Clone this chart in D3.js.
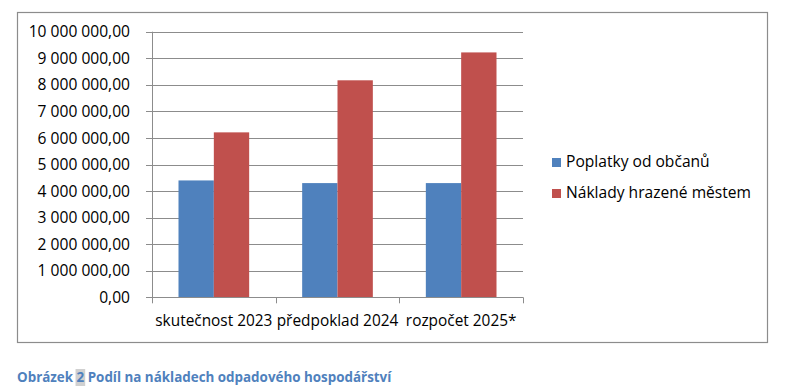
<!DOCTYPE html>
<html>
<head>
<meta charset="utf-8">
<script src="https://cdn.jsdelivr.net/npm/d3@7"></script>
<style>
  body { margin: 0; background: #fff; }
  svg { display: block; font-family: "Open Sans", sans-serif; }
</style>
</head>
<body>
<svg id="chart" width="800" height="391"></svg>
<script>
// kategorie a hodnoty
var categories = ["skutečnost 2023", "předpoklad 2024", "rozpočet 2025*"];
var seriesNames = ["Poplatky od občanů", "Náklady hrazené městem"];
var poplatky = [4400000, 4300000, 4300000];
var naklady = [6210000, 8170000, 9220000];
var yTicks = [0, 1000000, 2000000, 3000000, 4000000, 5000000, 6000000, 7000000, 8000000, 9000000, 10000000];
var colors = ["#4f81bd", "#c0504d"];

var svg = d3.select("#chart");

// rámeček grafu
svg.append("rect")
    .attr("x", 17.5).attr("y", 12.5)
    .attr("width", 750).attr("height", 330)
    .attr("fill", "#fff")
    .attr("stroke", "#8c8c8c")
    .attr("stroke-width", 1.2);

var plot = { left: 152, right: 523, top: 31.7, bottom: 297.3 };

var xScale = d3.scaleBand()
    .domain(categories)
    .range([plot.left, plot.right]);

var yScale = d3.scaleLinear()
    .domain([0, 10000000])
    .range([plot.bottom, plot.top]);

// formát čísel: "1 000 000,00"
function fmt(v) {
    var s = d3.format(",.2f")(v);
    return s.replace(/,/g, " ").replace(".", ",");
}

// mřížka
svg.append("g")
    .selectAll("line")
    .data(yTicks)
    .enter()
    .append("line")
    .attr("x1", plot.left - 6)
    .attr("x2", plot.right)
    .attr("y1", d => Math.round(yScale(d)) + 0.5)
    .attr("y2", d => Math.round(yScale(d)) + 0.5)
    .attr("stroke", "#8c8c8c")
    .attr("stroke-width", 1);

// popisky osy y
svg.append("g")
    .selectAll("text")
    .data(yTicks)
    .enter()
    .append("text")
    .attr("x", 130)
    .attr("y", d => yScale(d))
    .attr("dy", "0.36em")
    .attr("text-anchor", "end")
    .attr("font-size", 15.6)
    .attr("fill", "#000")
    .text(d => fmt(d));

// osa y
svg.append("line")
    .attr("x1", plot.left + 0.5).attr("x2", plot.left + 0.5)
    .attr("y1", plot.top).attr("y2", plot.bottom)
    .attr("stroke", "#8c8c8c");

// skupiny sloupců
var inner = d3.scaleBand()
    .domain(d3.range(2))
    .range([0, xScale.bandwidth()])
    .paddingOuter(0.75)
    .paddingInner(0);

var groups = svg.selectAll("g.cat")
    .data(categories)
    .enter()
    .append("g")
    .attr("class", "cat")
    .attr("transform", d => `translate(${xScale(d)},0)`);

groups.each(function(c, i) {
    var vals = [poplatky[i], naklady[i]];
    d3.select(this).selectAll("rect")
        .data(vals)
        .enter()
        .append("rect")
        .attr("x", (d, j) => inner(j))
        .attr("width", inner.bandwidth())
        .attr("y", d => yScale(d))
        .attr("height", d => yScale(0) - yScale(d))
        .attr("fill", (d, j) => colors[j]);
});

// osa x
svg.append("line")
    .attr("x1", plot.left).attr("x2", plot.right)
    .attr("y1", Math.round(plot.bottom) + 0.5).attr("y2", Math.round(plot.bottom) + 0.5)
    .attr("stroke", "#8c8c8c");

var xTicks = categories.map(c => xScale(c)).concat([plot.right]);
svg.append("g")
    .selectAll("line")
    .data(xTicks)
    .enter()
    .append("line")
    .attr("x1", d => Math.round(d) + 0.5)
    .attr("x2", d => Math.round(d) + 0.5)
    .attr("y1", plot.bottom)
    .attr("y2", plot.bottom + 6)
    .attr("stroke", "#8c8c8c");

svg.append("g")
    .selectAll("text")
    .data(categories)
    .enter()
    .append("text")
    .attr("x", d => xScale(d) + xScale.bandwidth() / 2)
    .attr("y", 326)
    .attr("text-anchor", "middle")
    .attr("font-size", 15.4)
    .attr("fill", "#000")
    .text(d => d);

// legenda
var legend = svg.append("g")
    .selectAll("g")
    .data(seriesNames)
    .enter()
    .append("g")
    .attr("transform", (d, i) => `translate(552, ${158 + i * 31})`);

legend.append("rect")
    .attr("width", 9).attr("height", 9)
    .attr("fill", (d, i) => colors[i]);

legend.append("text")
    .attr("x", 14)
    .attr("y", 9)
    .attr("font-size", 15.6)
    .attr("fill", "#000")
    .text(d => d);

// titulek pod grafem
var hl = svg.append("rect")
    .attr("y", 369)
    .attr("height", 17)
    .attr("fill", "#d0d0d0");

var cap = svg.append("text")
    .attr("x", 17)
    .attr("y", 382)
    .attr("font-size", 13.4)
    .attr("font-weight", "bold")
    .attr("fill", "#4f81bd");
cap.append("tspan").text("Obrázek ");
cap.append("tspan").text("2");
cap.append("tspan").text(" Podíl na nákladech odpadového hospodářství");

// šedé zvýraznění čísla
var node = cap.node();
var x0 = 17 + node.getSubStringLength(0, 8);
var w = node.getSubStringLength(8, 1);
hl.attr("x", x0 - 1).attr("width", w + 2);
</script>
</body>
</html>
